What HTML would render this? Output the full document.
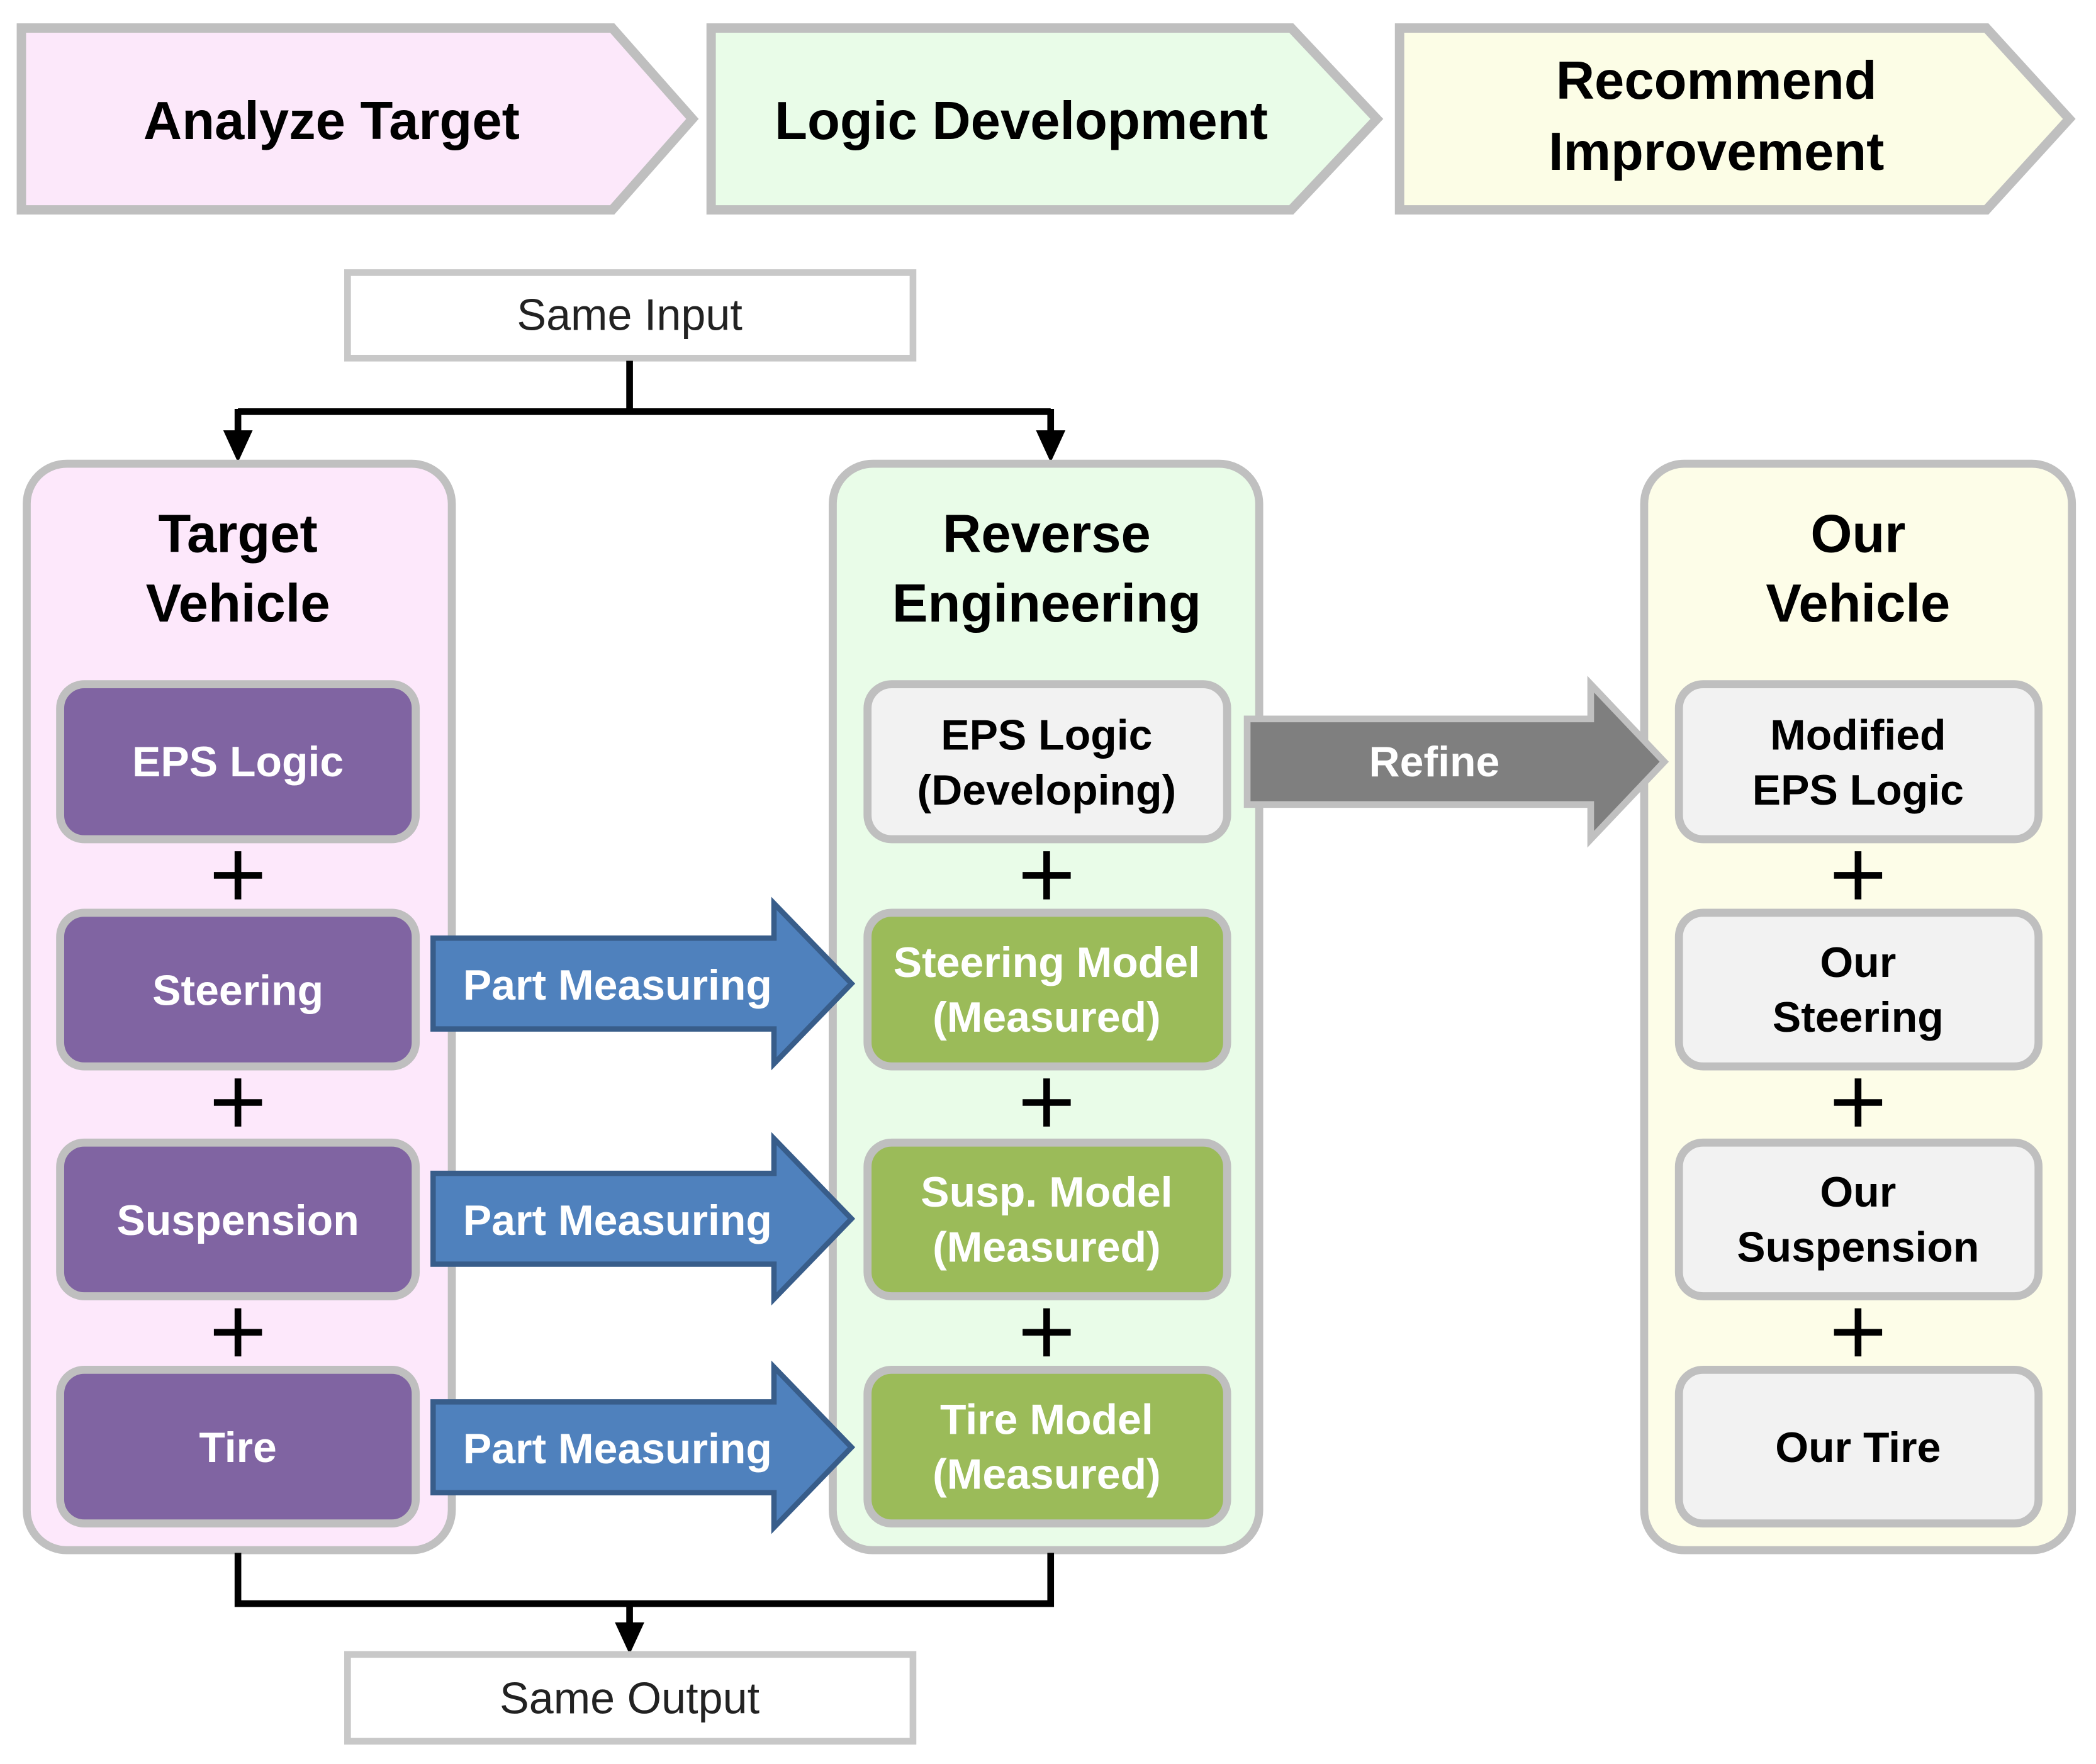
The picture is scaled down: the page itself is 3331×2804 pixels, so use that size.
<!DOCTYPE html>
<html><head><meta charset="utf-8"><style>
html,body{margin:0;padding:0;background:#fff;}
svg{display:block;}
text{font-family:"Liberation Sans",Arial,sans-serif;}
</style></head><body>
<svg width="3331" height="2804" viewBox="0 0 1568 1320" preserveAspectRatio="none" xmlns="http://www.w3.org/2000/svg">
<defs>
<marker id="ah" markerWidth="8" markerHeight="8" refX="4" refY="4" orient="auto" markerUnits="userSpaceOnUse"></marker>
</defs>
<!-- header chevrons -->
<polygon points="16,21 458,21 518,89 458,157 16,157" fill="#fce8fa" stroke="#bfbfbf" stroke-width="7"/>
<polygon points="532,21 966,21 1030,89 966,157 532,157" fill="#e9fce8" stroke="#bfbfbf" stroke-width="7"/>
<polygon points="1047,21 1486,21 1548,89 1486,157 1047,157" fill="#fcfde6" stroke="#bfbfbf" stroke-width="7"/>
<g font-weight="bold" font-size="40" text-anchor="middle" fill="#000">
<text x="248" y="104">Analyze Target</text>
<text x="764" y="104">Logic Development</text>
<text x="1284" y="74">Recommend</text>
<text x="1284" y="127">Improvement</text>
</g>
<!-- Same input -->
<rect x="260" y="204" width="423" height="64" fill="#fff" stroke="#c8c8c8" stroke-width="5"/>
<text x="471" y="247" font-size="33" text-anchor="middle" fill="#222">Same Input</text>
<path d="M471 270 V308 M178 308 H786 M178 306 V328 M786 306 V328" stroke="#000" stroke-width="5" fill="none"/>
<polygon points="167,322 189,322 178,346" fill="#000"/>
<polygon points="775,322 797,322 786,346" fill="#000"/>
<!-- panels -->
<rect x="20" y="347" width="318" height="813" rx="30" fill="#fde8fb" stroke="#c0c0c0" stroke-width="6"/>
<rect x="623" y="347" width="319" height="813" rx="30" fill="#e9fce8" stroke="#c0c0c0" stroke-width="6"/>
<rect x="1230" y="347" width="320" height="813" rx="30" fill="#fdfde8" stroke="#c0c0c0" stroke-width="6"/>
<g font-weight="bold" font-size="40" text-anchor="middle" fill="#000">
<text x="178" y="413">Target</text><text x="178" y="465">Vehicle</text>
<text x="783" y="413">Reverse</text><text x="783" y="465">Engineering</text>
<text x="1390" y="413">Our</text><text x="1390" y="465">Vehicle</text>
</g>
<!-- left boxes -->
<g stroke="#bfbfbf" stroke-width="6">
<rect x="45" y="512" width="266" height="116" rx="18" fill="#8064a2"/>
<rect x="45" y="683" width="266" height="115" rx="18" fill="#8064a2"/>
<rect x="45" y="855" width="266" height="115" rx="18" fill="#8064a2"/>
<rect x="45" y="1025" width="266" height="115" rx="18" fill="#8064a2"/>
<rect x="649" y="512" width="269" height="116" rx="18" fill="#f2f2f2"/>
<rect x="649" y="683" width="269" height="115" rx="18" fill="#9bbb59"/>
<rect x="649" y="855" width="269" height="115" rx="18" fill="#9bbb59"/>
<rect x="649" y="1025" width="269" height="115" rx="18" fill="#9bbb59"/>
<rect x="1256" y="512" width="269" height="116" rx="18" fill="#f2f2f2"/>
<rect x="1256" y="683" width="269" height="115" rx="18" fill="#f2f2f2"/>
<rect x="1256" y="855" width="269" height="115" rx="18" fill="#f2f2f2"/>
<rect x="1256" y="1025" width="269" height="115" rx="18" fill="#f2f2f2"/>
</g>
<g font-weight="bold" font-size="32" text-anchor="middle">
<g fill="#fff">
<text x="178" y="581">EPS Logic</text>
<text x="178" y="752">Steering</text>
<text x="178" y="924">Suspension</text>
<text x="178" y="1094">Tire</text>
<text x="783" y="731">Steering Model</text><text x="783" y="772">(Measured)</text>
<text x="783" y="903">Susp. Model</text><text x="783" y="944">(Measured)</text>
<text x="783" y="1073">Tire Model</text><text x="783" y="1114">(Measured)</text>
</g>
<g fill="#000">
<text x="783" y="561">EPS Logic</text><text x="783" y="602">(Developing)</text>
<text x="1390" y="561">Modified</text><text x="1390" y="602">EPS Logic</text>
<text x="1390" y="731">Our</text><text x="1390" y="772">Steering</text>
<text x="1390" y="903">Our</text><text x="1390" y="944">Suspension</text>
<text x="1390" y="1094">Our Tire</text>
</g>
</g>
<!-- pluses -->
<g stroke="#000" stroke-width="5">
<path d="M160 655 H196 M178 637 V673"/><path d="M160 825 H196 M178 807 V843"/><path d="M160 997 H196 M178 979 V1015"/>
<path d="M765 655 H801 M783 637 V673"/><path d="M765 825 H801 M783 807 V843"/><path d="M765 997 H801 M783 979 V1015"/>
<path d="M1372 655 H1408 M1390 637 V673"/><path d="M1372 825 H1408 M1390 807 V843"/><path d="M1372 997 H1408 M1390 979 V1015"/>
</g>
<!-- part measuring arrows -->
<g fill="#4f81bd" stroke="#385d8a" stroke-width="4">
<polygon points="324,702 579,702 579,676 637,736 579,796 579,770 324,770"/>
<polygon points="324,878 579,878 579,852 637,912 579,972 579,946 324,946"/>
<polygon points="324,1049 579,1049 579,1023 637,1083 579,1143 579,1117 324,1117"/>
</g>
<g fill="#fff" font-weight="bold" font-size="32" text-anchor="middle">
<text x="462" y="748">Part Measuring</text>
<text x="462" y="924">Part Measuring</text>
<text x="462" y="1095">Part Measuring</text>
</g>
<!-- refine -->
<polygon points="933,538 1190,538 1190,512 1245,570 1190,628 1190,602 933,602" fill="#7f7f7f" stroke="#c0c0c0" stroke-width="5"/>
<text x="1073" y="581" fill="#fff" font-weight="bold" font-size="32" text-anchor="middle">Refine</text>
<!-- bottom connector -->
<path d="M178 1162 V1200 H786 V1162 M471 1200 V1218" stroke="#000" stroke-width="5" fill="none"/>
<polygon points="460,1214 482,1214 471,1238" fill="#000"/>
<rect x="260" y="1238" width="423" height="65" fill="#fff" stroke="#c8c8c8" stroke-width="5"/>
<text x="471" y="1282" font-size="33" text-anchor="middle" fill="#222">Same Output</text>
</svg>
</body></html>
